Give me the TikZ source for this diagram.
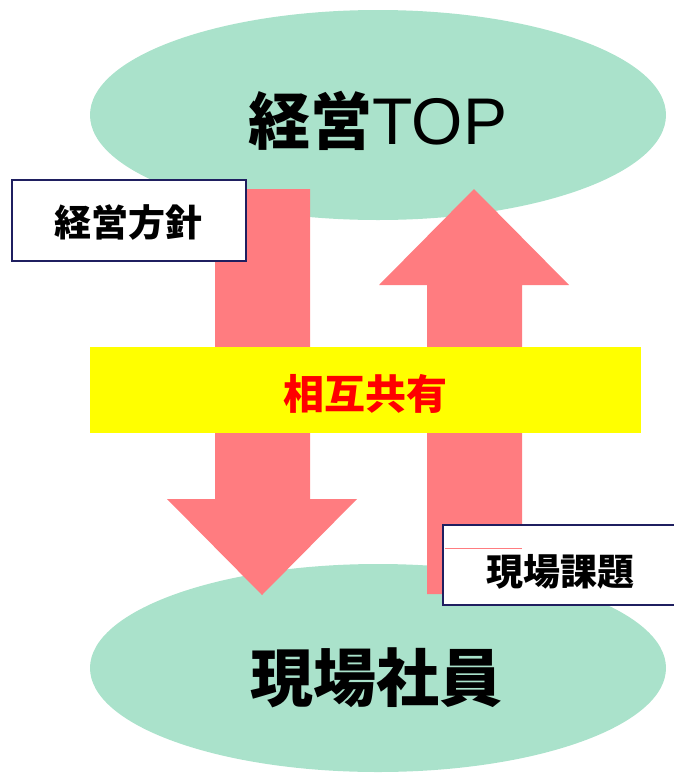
\documentclass[tikz,border=0pt]{standalone}
\usepackage{fontspec}
\newfontfamily\jp{Noto Sans CJK JP}
\newfontfamily\lat{Liberation Sans}
\definecolor{mint}{HTML}{AAE2CB}
\definecolor{salmon}{HTML}{FF7C80}
\definecolor{navy}{HTML}{1F1F60}
\definecolor{band}{HTML}{FFFF00}
\tikzset{
  bigarrow/.style={fill=salmon, draw=none},
  labelbox/.style={draw=navy, line width=2.4pt, fill=white, inner sep=0pt},
  lbl/.style={font=\jp\bfseries\fontsize{37}{37}\selectfont, text=black},
}
\begin{document}
\begin{tikzpicture}[x=1pt,y=-1pt]
\useasboundingbox (0,0) rectangle (673,774);
% ellipses
\fill[mint] (378,115) ellipse [x radius=288, y radius=105];
\fill[mint] (378,668) ellipse [x radius=288, y radius=104];
\node (top) at (378,121) {\jp\bfseries\fontsize{62}{62}\selectfont 経営{\lat\mdseries\fontsize{66}{66}\selectfont TOP}};
\node (bottom) at (376,678) {\jp\bfseries\fontsize{63}{63}\selectfont 現場社員};
% down arrow
\fill[bigarrow] (215,189) -- (310,189) -- (310,499) -- (357,499) -- (262,595) -- (167,499) -- (215,499) -- cycle;
% up arrow
\fill[bigarrow] (427,594) -- (522,594) -- (522,285) -- (569,285) -- (474,189) -- (379,285) -- (427,285) -- cycle;
% yellow band
\fill[band] (90,347) rectangle (641,433);
\node[text=red, font=\jp\bfseries\fontsize{41}{41}\selectfont] (share) at (365,394) {相互共有};
% boxes
\draw[labelbox] (12,180) rectangle (246,261);
\node[lbl] (policy) at (128,222) {経営方針};
\draw[labelbox] (443,525) rectangle (680,605);
\draw[salmon, line width=0.8pt] (445,548) -- (522,548);
\node[lbl] (issue) at (560,572) {現場課題};
\end{tikzpicture}
\end{document}
